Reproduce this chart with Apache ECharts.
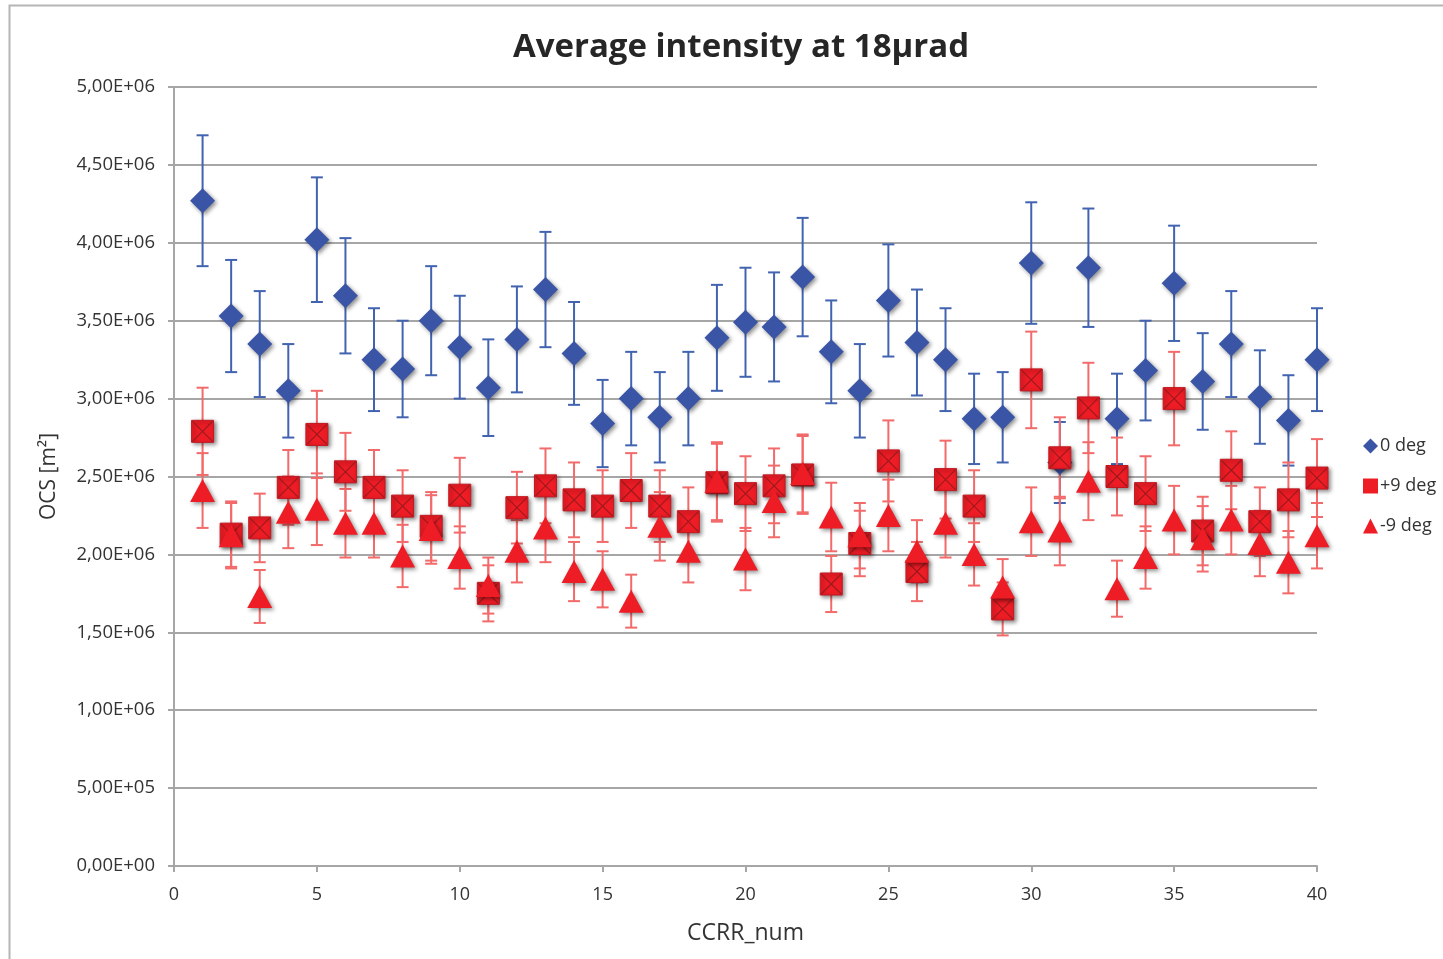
<!DOCTYPE html>
<html>
<head>
<meta charset="utf-8">
<script src="https://cdn.jsdelivr.net/npm/echarts@6/dist/echarts.min.js"></script>
<style>html,body{margin:0;padding:0;background:#fff;}#c{width:1443px;height:959px;}</style>
</head>
<body>
<div id="c"></div>
<script>
const ccrr = [1,2,3,4,5,6,7,8,9,10,11,12,13,14,15,16,17,18,19,20,21,22,23,24,25,26,27,28,29,30,31,32,33,34,35,36,37,38,39,40];
const deg0 = [4.27,3.53,3.35,3.05,4.02,3.66,3.25,3.19,3.50,3.33,3.07,3.38,3.70,3.29,2.84,3.00,2.88,3.00,3.39,3.49,3.46,3.78,3.30,3.05,3.63,3.36,3.25,2.87,2.88,3.87,2.59,3.84,2.87,3.18,3.74,3.11,3.35,3.01,2.86,3.25];
const deg0Err = [0.42,0.36,0.34,0.30,0.40,0.37,0.33,0.31,0.35,0.33,0.31,0.34,0.37,0.33,0.28,0.30,0.29,0.30,0.34,0.35,0.35,0.38,0.33,0.30,0.36,0.34,0.33,0.29,0.29,0.39,0.26,0.38,0.29,0.32,0.37,0.31,0.34,0.30,0.29,0.33];
const degP9 = [2.79,2.13,2.17,2.43,2.77,2.53,2.43,2.31,2.18,2.38,1.75,2.30,2.44,2.35,2.31,2.41,2.31,2.21,2.46,2.39,2.44,2.51,1.81,2.07,2.60,1.89,2.48,2.31,1.65,3.12,2.62,2.94,2.50,2.39,3.00,2.15,2.54,2.21,2.35,2.49];
const degP9Err = [0.28,0.21,0.22,0.24,0.28,0.25,0.24,0.23,0.22,0.24,0.18,0.23,0.24,0.24,0.23,0.24,0.23,0.22,0.25,0.24,0.24,0.25,0.18,0.21,0.26,0.19,0.25,0.23,0.17,0.31,0.26,0.29,0.25,0.24,0.30,0.22,0.25,0.22,0.24,0.25];
const degM9 = [2.41,2.12,1.73,2.27,2.29,2.20,2.20,1.99,2.16,1.98,1.80,2.02,2.17,1.89,1.84,1.70,2.18,2.02,2.47,1.97,2.34,2.52,2.24,2.12,2.25,2.02,2.20,2.00,1.79,2.21,2.15,2.47,1.78,1.98,2.22,2.10,2.22,2.07,1.95,2.12];
const degM9Err = [0.24,0.21,0.17,0.23,0.23,0.22,0.22,0.20,0.22,0.20,0.18,0.20,0.22,0.19,0.18,0.17,0.22,0.20,0.25,0.20,0.23,0.25,0.22,0.21,0.23,0.20,0.22,0.20,0.18,0.22,0.22,0.25,0.18,0.20,0.22,0.21,0.22,0.21,0.20,0.21];
const scale = 1e6;
const seriesNames = ['0 deg', '+9 deg', '-9 deg'];

const FONT = '"Open Sans", Lato, sans-serif';
const BLUE = '#3a55a5', BLUE_ERR = '#4263b0';
const RED = '#ee1c25', RED_ERR = '#f26a6a';
const SHADOW = {shadowBlur: 4, shadowOffsetX: 2, shadowOffsetY: 2, shadowColor: 'rgba(0,0,0,0.45)'};

function toPts(vals, errs) {
  return ccrr.map((x, i) => [x, vals[i] * scale, errs[i] * scale]);
}
function errSeries(vals, errs, color) {
  return {
    type: 'custom', silent: true,
    data: toPts(vals, errs),
    renderItem: function (params, api) {
      const x = api.value(0), y = api.value(1), e = api.value(2);
      const t = api.coord([x, y + e]), b = api.coord([x, y - e]);
      const cw = 6;
      const st = {stroke: color, lineWidth: 2};
      return {type: 'group', children: [
        {type: 'line', shape: {x1: t[0], y1: t[1], x2: b[0], y2: b[1]}, style: st},
        {type: 'line', shape: {x1: t[0] - cw, y1: t[1], x2: t[0] + cw, y2: t[1]}, style: st},
        {type: 'line', shape: {x1: b[0] - cw, y1: b[1], x2: b[0] + cw, y2: b[1]}, style: st}
      ]};
    },
    z: 2
  };
}
function fmtE(v) {
  if (v === 0) return '0,00E+00';
  const s = v.toExponential(2);
  const parts = s.split('e');
  let ex = parseInt(parts[1], 10);
  const sign = ex < 0 ? '-' : '+';
  ex = Math.abs(ex);
  return parts[0].replace('.', ',') + 'E' + sign + (ex < 10 ? '0' + ex : '' + ex);
}

const chart = echarts.init(document.getElementById('c'), null, {renderer: 'canvas'});
chart.setOption({
  backgroundColor: '#fff',
  animation: false,
  textStyle: {fontFamily: FONT},
  graphic: [{type: 'rect', shape: {x: 9.5, y: 5.5, width: 1460, height: 980}, style: {fill: 'none', stroke: '#b5b5b5', lineWidth: 2}, z: -10}],
  title: {
    text: 'Average intensity at 18µrad',
    left: 736, textAlign: 'center', top: 26,
    textStyle: {fontFamily: FONT, fontSize: 33, fontWeight: 'bold', color: '#262626'}
  },
  legend: {
    orient: 'vertical', left: 1358, top: 432, itemGap: 22, itemWidth: 15, itemHeight: 15,
    textStyle: {fontFamily: FONT, fontSize: 18, color: '#333', padding: [0, 0, 0, -3]},
    data: [
      {name: seriesNames[0], icon: 'diamond', itemStyle: {color: BLUE}},
      {name: seriesNames[1], icon: 'rect', itemStyle: {color: RED}},
      {name: seriesNames[2], icon: 'triangle', itemStyle: {color: RED}}
    ]
  },
  grid: {left: 174, right: 126, top: 87, bottom: 93, containLabel: false},
  xAxis: {
    type: 'value', min: 0, max: 40, interval: 5,
    name: 'CCRR_num', nameLocation: 'middle', nameGap: 56,
    nameTextStyle: {fontFamily: FONT, fontSize: 23, color: '#333'},
    axisLine: {show: true, lineStyle: {color: '#a6a6a6', width: 2}},
    axisTick: {show: true, length: 6, lineStyle: {color: '#a6a6a6', width: 2}},
    axisLabel: {fontFamily: FONT, fontSize: 18, color: '#333', margin: 20},
    splitLine: {show: false}
  },
  yAxis: {
    type: 'value', min: 0, max: 5e6, interval: 5e5,
    name: 'OCS [m²]', nameLocation: 'middle', nameGap: 114, nameRotate: 90,
    nameTextStyle: {fontFamily: FONT, fontSize: 21, color: '#333'},
    axisLine: {show: true, lineStyle: {color: '#a6a6a6', width: 2}},
    axisTick: {show: true, length: 6, lineStyle: {color: '#a6a6a6', width: 2}},
    axisLabel: {fontFamily: FONT, fontSize: 18.5, color: '#333', margin: 19, formatter: fmtE},
    splitLine: {show: true, lineStyle: {color: '#a6a6a6', width: 2}}
  },
  series: [
    errSeries(deg0, deg0Err, BLUE_ERR),
    {
      name: seriesNames[0], type: 'scatter', symbol: 'diamond', symbolSize: 25,
      data: ccrr.map((x, i) => [x, deg0[i] * scale]),
      itemStyle: Object.assign({color: BLUE, opacity: 1}, SHADOW), z: 3
    },
    errSeries(degP9, degP9Err, RED_ERR),
    {
      name: seriesNames[1], type: 'custom',
      data: ccrr.map((x, i) => [x, degP9[i] * scale]),
      itemStyle: {color: RED},
      renderItem: function (params, api) {
        const p = api.coord([api.value(0), api.value(1)]);
        const h = 11;
        const lst = {stroke: '#9c1a1e', lineWidth: 1.2};
        return {type: 'group', children: [
          {type: 'rect', shape: {x: p[0] - h, y: p[1] - h, width: 2 * h, height: 2 * h},
           style: Object.assign({fill: RED, stroke: '#c01820', lineWidth: 1}, SHADOW)},
          {type: 'line', shape: {x1: p[0] - h + 1, y1: p[1] - h + 1, x2: p[0] + h - 1, y2: p[1] + h - 1}, style: lst},
          {type: 'line', shape: {x1: p[0] + h - 1, y1: p[1] - h + 1, x2: p[0] - h + 1, y2: p[1] + h - 1}, style: lst}
        ]};
      },
      z: 5
    },
    errSeries(degM9, degM9Err, RED_ERR),
    {
      name: seriesNames[2], type: 'scatter', symbol: 'triangle', symbolSize: [25, 23],
      data: ccrr.map((x, i) => [x, degM9[i] * scale]),
      itemStyle: Object.assign({color: RED, opacity: 1}, SHADOW), z: 7
    }
  ]
});
</script>
</body>
</html>
